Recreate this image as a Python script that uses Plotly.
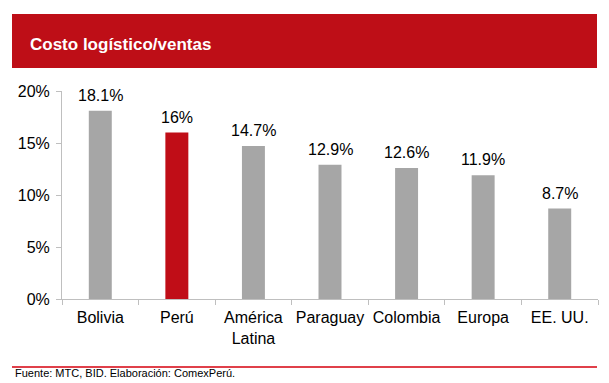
import plotly.graph_objects as go

categories = ["Bolivia", "Perú", "América<br>Latina", "Paraguay", "Colombia", "Europa", "EE. UU."]
values = [18.1, 16.0, 14.7, 12.9, 12.6, 11.9, 8.7]
value_labels = ["18.1%", "16%", "14.7%", "12.9%", "12.6%", "11.9%", "8.7%"]
bar_colors = ["#a6a6a6", "#c00d17", "#a6a6a6", "#a6a6a6", "#a6a6a6", "#a6a6a6", "#a6a6a6"]
y_ticks = [0, 5, 10, 15, 20]
y_tick_labels = ["0%", "5%", "10%", "15%", "20%"]
title_text = "Costo logístico/ventas"
source_text = "Fuente: MTC, BID. Elaboración: ComexPerú."

W, H = 609, 383
L, R, T, B = 62, 11, 91, 84
pw = W - L - R
ph = H - T - B
FONT = "Arial, Liberation Sans, sans-serif"

def px_x(x):
    return (x - L) / pw

def px_y(y):
    return (H - B - y) / ph

fig = go.Figure()
fig.add_trace(go.Bar(
    x=categories, y=values, marker=dict(color=bar_colors, line=dict(width=0)),
    width=0.30, hoverinfo="skip",
))

annotations = [
    dict(x=c, y=v, text=t, xref="x", yref="y", showarrow=False,
         yanchor="bottom", xanchor="center", yshift=5,
         font=dict(family=FONT, size=16, color="#000000"))
    for c, v, t in zip(categories, values, value_labels)
]
annotations += [
    dict(text="<b>" + title_text + "</b>", xref="paper", yref="paper",
         x=px_x(28), y=px_y(45), xanchor="left", yanchor="middle",
         showarrow=False, font=dict(family=FONT, size=17, color="white")),
    dict(text=source_text, xref="paper", yref="paper",
         x=px_x(13), y=px_y(373), xanchor="left", yanchor="middle",
         showarrow=False, font=dict(family=FONT, size=11, color="#000000")),
]

fig.update_layout(
    width=W, height=H,
    margin=dict(l=L, r=R, t=T, b=B, autoexpand=False),
    paper_bgcolor="white", plot_bgcolor="white",
    showlegend=False,
    font=dict(family=FONT, size=16, color="#000000"),
    xaxis=dict(
        showline=True, linecolor="#bfbfbf", linewidth=1,
        ticks="outside", ticklen=5, tickcolor="#bfbfbf",
        tickson="boundaries", showgrid=False, ticklabelstandoff=4,
        tickangle=0, automargin=False,
        tickfont=dict(family=FONT, size=16, color="#000000"),
    ),
    yaxis=dict(
        range=[0, 20], tickvals=y_ticks, ticktext=y_tick_labels,
        showline=True, linecolor="#bfbfbf", linewidth=1,
        ticks="outside", ticklen=5, tickcolor="#bfbfbf",
        showgrid=False, zeroline=False, ticklabelstandoff=3,
        automargin=False,
        tickfont=dict(family=FONT, size=16, color="#000000"),
    ),
    shapes=[
        dict(type="rect", xref="paper", yref="paper",
             x0=px_x(12), x1=px_x(597), y0=px_y(68), y1=px_y(14),
             fillcolor="#be0e17", line=dict(width=0), layer="below"),
        dict(type="line", xref="paper", yref="paper",
             x0=px_x(12), x1=px_x(597), y0=px_y(367), y1=px_y(367),
             line=dict(color="#e0404a", width=2)),
    ],
    annotations=annotations,
)

fig.write_html(
    "out.html",
    config={"displayModeBar": False},
    post_script="document.body.style.margin='0';document.body.style.overflow='hidden';",
)
